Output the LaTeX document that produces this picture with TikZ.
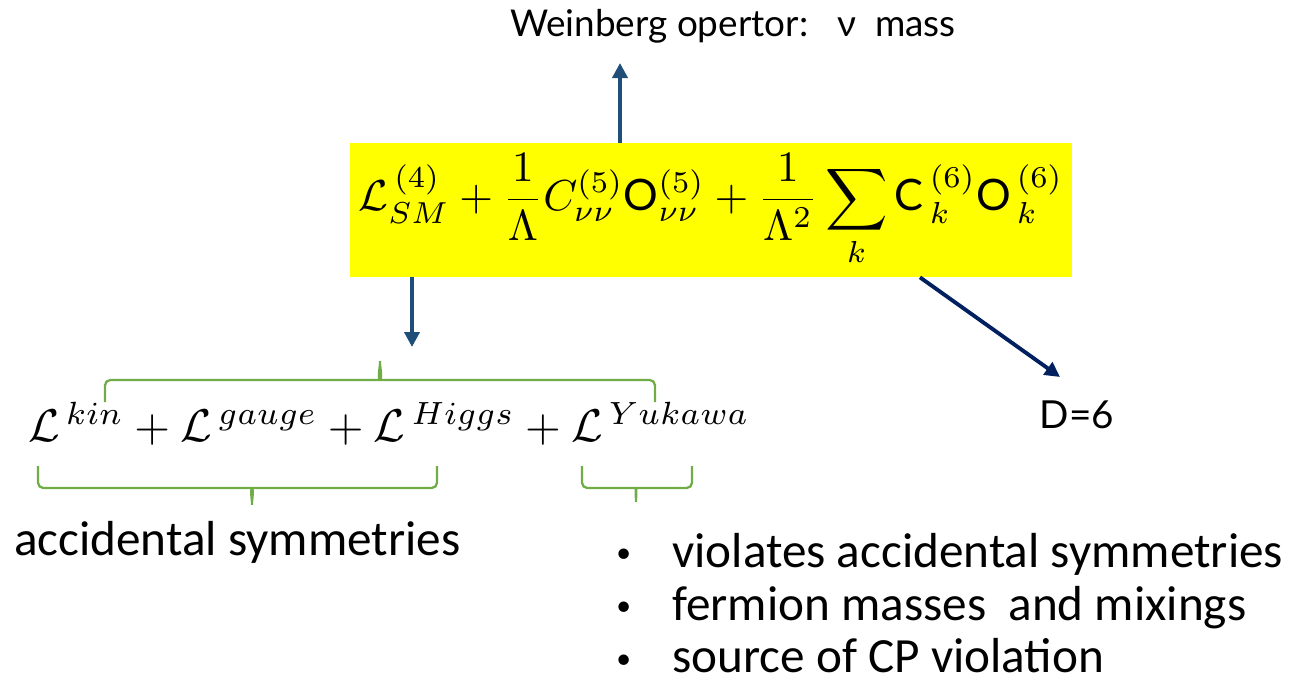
\documentclass[tikz,border=0pt]{standalone}
\usepackage{fontspec}
\setmainfont{Lato}
\newfontfamily\calfont{Carlito}
\usepackage{graphicx}
\usetikzlibrary{arrows.meta}
\definecolor{lagyellow}{HTML}{FFFF00}
\definecolor{arrowblue}{HTML}{1F4E79}
\definecolor{arrownavy}{HTML}{002060}
\definecolor{bracegreen}{HTML}{70AD47}
\newcommand{\smallbullet}{\makebox[1.12cm][l]{\raisebox{0.1em}{\scalebox{0.6}{\textbullet}}}}

\begin{document}
\begin{tikzpicture}[x=0.02cm,y=-0.02cm,
  arrow/.style={line width=2.2pt,-{Triangle[length=0.3cm,width=0.3cm]}},
  brace/.style={draw=bracegreen,line width=1.3pt,rounded corners=3pt}]
\useasboundingbox (0,0) rectangle (1292,687);
\node[fill=lagyellow,minimum width=14.44cm,minimum height=2.68cm,inner sep=0pt] (lag) at (711,210) {\resizebox{14.1cm}{!}{$\displaystyle \mathcal{L}^{\,(4)}_{SM}+\frac{1}{\Lambda}C^{(5)}_{\nu\nu}\mathrm{O}^{(5)}_{\nu\nu}+\frac{1}{\Lambda^2}\sum_k\mathrm{C}^{\,(6)}_{\,k}\mathrm{O}^{\,(6)}_{\,k}$}};
\node[font=\fontsize{21}{24}\selectfont] (weinberg) at (733,26) {Weinberg opertor:\hspace{0.8em}ν\hspace{0.5em}mass};
\node[font=\fontsize{22}{24}\selectfont] (dsix) at (1077,415) {D=6};
\node (smlag) at (389,424) {\resizebox{14.44cm}{!}{$\mathcal{L}^{\,kin}+\mathcal{L}^{\,gauge}+\mathcal{L}^{\,Higgs}+\mathcal{L}^{\,Yukawa}$}};
\node[anchor=base west,font=\calfont\fontsize{28}{30}\selectfont] (accid) at (8,555) {accidental symmetries};
\node[anchor=north west,align=left,inner sep=0pt,font=\calfont\fontsize{28}{30}\selectfont] (yukawa) at (616,533) {\smallbullet violates accidental symmetries\\\smallbullet fermion masses\ \ and mixings\\\smallbullet source of CP violation};

% arrows out of the yellow box
\coordinate (uptip) at (620,63);
\coordinate (downtip) at (412,347);
\coordinate (dtip) at (1060,377);
\draw[arrow,arrowblue] (lag.north -| uptip) -- (uptip);
\draw[arrow,arrowblue] (lag.south -| downtip) -- (downtip);
\draw[arrow,arrownavy] ([xshift=4.18cm]lag.south) -- (dtip);

% braces
\draw[brace] (105,402) |- (374,380) to[out=0,in=270] (380,358) to[out=270,in=180] (386,380) -| (655,402);
\draw[brace] (38,466) |- (246,488) to[out=0,in=90] (252,508) to[out=90,in=180] (258,488) -| (437,466);
\draw[brace] (582,466) |- (630,488) to[out=0,in=90] (636,505) to[out=90,in=180] (642,488) -| (692,466);
\end{tikzpicture}
\end{document}
